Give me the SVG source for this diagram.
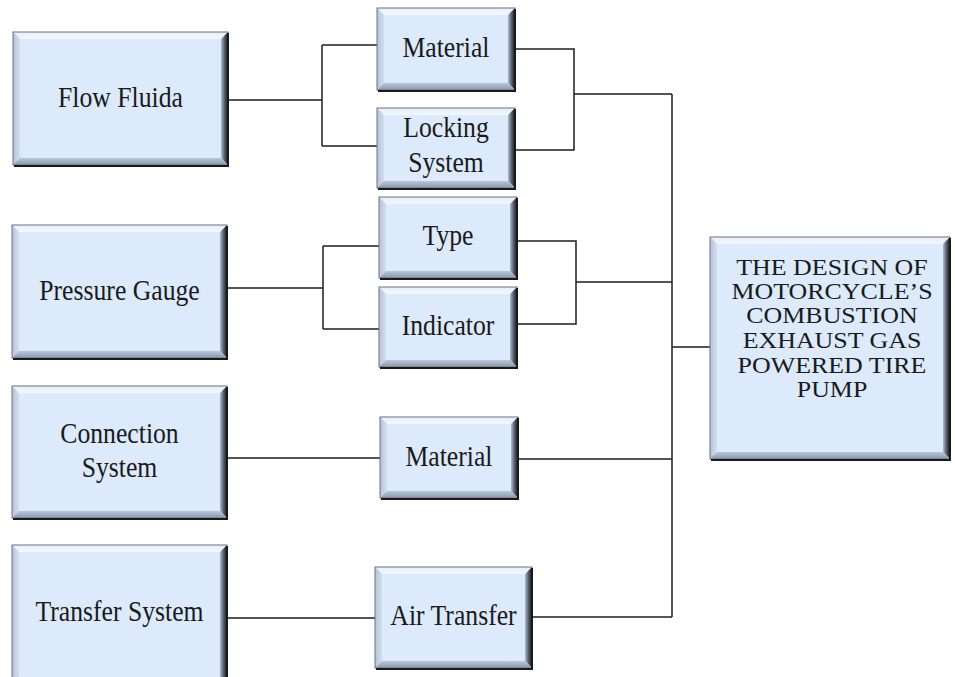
<svg xmlns="http://www.w3.org/2000/svg" width="955" height="677" viewBox="0 0 955 677">
<defs>
<linearGradient id="gR" x1="0" y1="0" x2="1" y2="0">
<stop offset="0" stop-color="#aebcd2"/><stop offset="0.5" stop-color="#56606f"/><stop offset="1" stop-color="#15181d"/>
</linearGradient>
<linearGradient id="gB" x1="0" y1="0" x2="0" y2="1">
<stop offset="0" stop-color="#b9c7db"/><stop offset="1" stop-color="#8a98ad"/>
</linearGradient>
<linearGradient id="gT" x1="0" y1="0" x2="0" y2="1">
<stop offset="0" stop-color="#e6eef8"/><stop offset="1" stop-color="#f3f8ff"/>
</linearGradient>
<linearGradient id="gL" x1="0" y1="0" x2="1" y2="0">
<stop offset="0" stop-color="#b7c4d6"/><stop offset="1" stop-color="#d2def0"/>
</linearGradient>
</defs>
<style>
.face{fill:#dceafc}
.t{fill:url(#gT)}
.l{fill:url(#gL)}
.r{fill:url(#gR)}
.b{fill:url(#gB)}
.edge{fill:none;stroke:#6d737c;stroke-width:1}
.sh{fill:none;stroke:#1a1a1a;stroke-width:2}
.tx{font-family:'Liberation Serif','DejaVu Serif',serif;font-size:25.7px;fill:#1a1a1a;text-anchor:middle}
.mx{font-family:'Liberation Serif','DejaVu Serif',serif;font-size:24px;fill:#1a1a1a;text-anchor:middle}
.c{fill:none;stroke:#1e1e1e;stroke-width:1.5}
</style>
<rect width="955" height="677" fill="#ffffff"/>

<g id="connectors">
<path class="c" d="M228,100 H322 M322,45 V146 M322,45 H377 M322,146 H377"/>
<path class="c" d="M515,49 H574 V150 H515 M574,94 H672"/>
<path class="c" d="M227,288 H323 M323,246 V329 M323,246 H379 M323,329 H379"/>
<path class="c" d="M517,241 H576 V324 H517 M576,282 H672"/>
<path class="c" d="M227,458 H380 M518,459 H672"/>
<path class="c" d="M227,618 H375 M532,617 H672"/>
<path class="c" d="M672,94 V617 M672,347 H710"/>
</g>

<g id="flow-fluida" transform="translate(13 32)">
<rect class="face" width="215" height="133"/>
<polygon class="t" points="0,0 215,0 208,7 7,7"/>
<polygon class="l" points="0,0 7,7 7,126 0,133"/>
<polygon class="r" points="215,0 215,133 208,126 208,7"/>
<polygon class="b" points="0,133 7,126 208,126 215,133"/>
<rect class="edge" width="215" height="133"/>
<path class="sh" d="M215,1 V134 H1"/>
<text class="tx" transform="translate(107.5 75) scale(1 1.17)">Flow Fluida</text>
</g>

<g id="pressure-gauge" transform="translate(12 225)">
<rect class="face" width="215" height="133"/>
<polygon class="t" points="0,0 215,0 208,7 7,7"/>
<polygon class="l" points="0,0 7,7 7,126 0,133"/>
<polygon class="r" points="215,0 215,133 208,126 208,7"/>
<polygon class="b" points="0,133 7,126 208,126 215,133"/>
<rect class="edge" width="215" height="133"/>
<path class="sh" d="M215,1 V134 H1"/>
<text class="tx" transform="translate(107.5 75) scale(1 1.17)">Pressure Gauge</text>
</g>

<g id="connection-system" transform="translate(12 386)">
<rect class="face" width="215" height="132"/>
<polygon class="t" points="0,0 215,0 208,7 7,7"/>
<polygon class="l" points="0,0 7,7 7,125 0,132"/>
<polygon class="r" points="215,0 215,132 208,125 208,7"/>
<polygon class="b" points="0,132 7,125 208,125 215,132"/>
<rect class="edge" width="215" height="132"/>
<path class="sh" d="M215,1 V133 H1"/>
<text class="tx" transform="translate(107.5 57) scale(1 1.17)">Connection</text>
<text class="tx" transform="translate(107.5 91) scale(1 1.17)">System</text>
</g>

<g id="transfer-system" transform="translate(12 545)">
<rect class="face" width="215" height="140"/>
<polygon class="t" points="0,0 215,0 208,7 7,7"/>
<polygon class="l" points="0,0 7,7 7,133 0,140"/>
<polygon class="r" points="215,0 215,140 208,133 208,7"/>
<rect class="edge" width="215" height="140"/>
<path class="sh" d="M215,1 V141"/>
<text class="tx" transform="translate(107.5 76) scale(1 1.17)">Transfer System</text>
</g>

<g id="material-1" transform="translate(377 8)">
<rect class="face" width="138" height="82"/>
<polygon class="t" points="0,0 138,0 131,7 7,7"/>
<polygon class="l" points="0,0 7,7 7,75 0,82"/>
<polygon class="r" points="138,0 138,82 131,75 131,7"/>
<polygon class="b" points="0,82 7,75 131,75 138,82"/>
<rect class="edge" width="138" height="82"/>
<path class="sh" d="M138,1 V83 H1"/>
<text class="tx" transform="translate(69 49) scale(1 1.17)">Material</text>
</g>

<g id="locking-system" transform="translate(377 108)">
<rect class="face" width="138" height="80"/>
<polygon class="t" points="0,0 138,0 131,7 7,7"/>
<polygon class="l" points="0,0 7,7 7,73 0,80"/>
<polygon class="r" points="138,0 138,80 131,73 131,7"/>
<polygon class="b" points="0,80 7,73 131,73 138,80"/>
<rect class="edge" width="138" height="80"/>
<path class="sh" d="M138,1 V81 H1"/>
<text class="tx" transform="translate(69 29) scale(1 1.17)">Locking</text>
<text class="tx" transform="translate(69 64) scale(1 1.17)">System</text>
</g>

<g id="type" transform="translate(379 197)">
<rect class="face" width="138" height="81"/>
<polygon class="t" points="0,0 138,0 131,7 7,7"/>
<polygon class="l" points="0,0 7,7 7,74 0,81"/>
<polygon class="r" points="138,0 138,81 131,74 131,7"/>
<polygon class="b" points="0,81 7,74 131,74 138,81"/>
<rect class="edge" width="138" height="81"/>
<path class="sh" d="M138,1 V82 H1"/>
<text class="tx" transform="translate(69 48) scale(1 1.17)">Type</text>
</g>

<g id="indicator" transform="translate(379 287)">
<rect class="face" width="138" height="80"/>
<polygon class="t" points="0,0 138,0 131,7 7,7"/>
<polygon class="l" points="0,0 7,7 7,73 0,80"/>
<polygon class="r" points="138,0 138,80 131,73 131,7"/>
<polygon class="b" points="0,80 7,73 131,73 138,80"/>
<rect class="edge" width="138" height="80"/>
<path class="sh" d="M138,1 V81 H1"/>
<text class="tx" transform="translate(69 48) scale(1 1.17)">Indicator</text>
</g>

<g id="material-2" transform="translate(380 417)">
<rect class="face" width="138" height="81"/>
<polygon class="t" points="0,0 138,0 131,7 7,7"/>
<polygon class="l" points="0,0 7,7 7,74 0,81"/>
<polygon class="r" points="138,0 138,81 131,74 131,7"/>
<polygon class="b" points="0,81 7,74 131,74 138,81"/>
<rect class="edge" width="138" height="81"/>
<path class="sh" d="M138,1 V82 H1"/>
<text class="tx" transform="translate(69 49) scale(1 1.17)">Material</text>
</g>

<g id="air-transfer" transform="translate(375 567)">
<rect class="face" width="157" height="101"/>
<polygon class="t" points="0,0 157,0 150,7 7,7"/>
<polygon class="l" points="0,0 7,7 7,94 0,101"/>
<polygon class="r" points="157,0 157,101 150,94 150,7"/>
<polygon class="b" points="0,101 7,94 150,94 157,101"/>
<rect class="edge" width="157" height="101"/>
<path class="sh" d="M157,1 V102 H1"/>
<text class="tx" transform="translate(78.5 58) scale(1 1.17)">Air Transfer</text>
</g>

<g id="main" transform="translate(710 237)">
<rect class="face" width="240" height="222"/>
<polygon class="t" points="0,0 240,0 233,7 7,7"/>
<polygon class="l" points="0,0 7,7 7,215 0,222"/>
<polygon class="r" points="240,0 240,222 233,215 233,7"/>
<polygon class="b" points="0,222 7,215 233,215 240,222"/>
<rect class="edge" width="240" height="222"/>
<path class="sh" d="M240,1 V223 H1"/>
<text class="mx" transform="translate(122 38) scale(1.08 1)">THE DESIGN OF</text>
<text class="mx" transform="translate(122 62) scale(1.08 1)">MOTORCYCLE’S</text>
<text class="mx" transform="translate(122 86) scale(1.08 1)">COMBUSTION</text>
<text class="mx" transform="translate(122 111) scale(1.08 1)">EXHAUST GAS</text>
<text class="mx" transform="translate(122 136) scale(1.08 1)">POWERED TIRE</text>
<text class="mx" transform="translate(122 160) scale(1.08 1)">PUMP</text>
</g>
</svg>
